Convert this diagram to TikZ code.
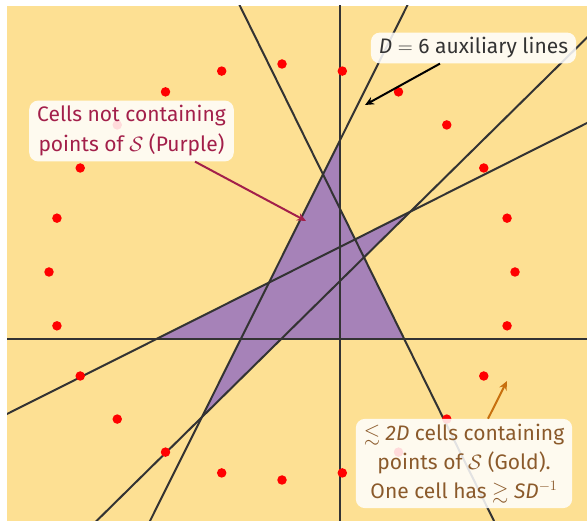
\documentclass[tikz,border=0pt]{standalone}
\usepackage{amssymb}
\usepackage{fontspec}
\setmainfont{Fira Sans}
\usetikzlibrary{arrows.meta,calc}
\definecolor{gold}{HTML}{FDE093}
\definecolor{cellpurple}{HTML}{A682B8}
\definecolor{lineg}{HTML}{333333}
\definecolor{crim}{HTML}{A31F4A}
\definecolor{brownt}{HTML}{8B5A2B}
\definecolor{orangea}{HTML}{C8700F}
\tikzset{
  auxline/.style={lineg, line width=2pt},
  dot/.style={circle, fill=red, inner sep=0pt, minimum size=9.5pt},
  labelbox/.style={fill=white, fill opacity=0.86, text opacity=1, rounded corners=9pt,
    align=center, inner xsep=8pt, inner ysep=5pt, font=\fontsize{21}{30}\selectfont},
  callout/.style={line width=2pt, -{Stealth[length=9pt,width=8pt]}},
}
\begin{document}
\begin{tikzpicture}[x=1pt,y=-1pt]
\useasboundingbox (0,0) rectangle (587,521);
\fill[white] (0,0) rectangle (587,521);
\fill[gold] (7,6) rectangle (587,521);
% line end points
\coordinate (l1a) at (0,339);   \coordinate (l1b) at (600,339);
\coordinate (l2a) at (340,0);   \coordinate (l2b) at (340,530);
\coordinate (l3a) at (240,6);   \coordinate (l3b) at (494,521);
\coordinate (l4a) at (407,6);   \coordinate (l4b) at (150,521);
\coordinate (l5a) at (200,419); \coordinate (l5b) at (409,213);
\coordinate (l6a) at (7,414);   \coordinate (l6b) at (587,123);
% purple cells
\fill[cellpurple]
  (intersection of l2a--l2b and l4a--l4b) --
  (intersection of l4a--l4b and l6a--l6b) --
  (intersection of l6a--l6b and l1a--l1b) --
  (intersection of l1a--l1b and l4a--l4b) --
  (intersection of l4a--l4b and l5a--l5b) --
  (intersection of l5a--l5b and l1a--l1b) --
  (intersection of l1a--l1b and l3a--l3b) --
  (intersection of l3a--l3b and l5a--l5b) --
  (intersection of l5a--l5b and l6a--l6b) --
  (intersection of l6a--l6b and l3a--l3b) --
  (intersection of l3a--l3b and l2a--l2b) -- cycle;
\begin{scope}
\clip (7,6) rectangle (587,521);
\draw[auxline] (l1a) -- (l1b);
\draw[auxline] (l2a) -- (l2b);
\draw[auxline] ($(l3a)!-0.1!(l3b)$) -- ($(l3a)!1.1!(l3b)$);
\draw[auxline] ($(l4a)!-0.1!(l4b)$) -- ($(l4a)!1.1!(l4b)$);
\draw[auxline] ($(l5a)!-0.6!(l5b)$) -- ($(l5a)!2.0!(l5b)$);
\draw[auxline] ($(l6a)!-0.1!(l6b)$) -- ($(l6a)!1.1!(l6b)$);
\end{scope}
% points of S
\foreach \k in {0,...,23} {
  \node[dot] (p\k) at ({282+233*cos(15*\k)},{272-208*sin(15*\k)}) {};
}
% labels
\node[labelbox, text=crim] (lab1) at (131.5,131)
  {Cells not containing\\points of $\mathcal{S}$ (Purple)};
\node[labelbox, text=lineg] (lab2) at (473.5,48)
  {\itshape D\upshape{} $=$ 6 auxiliary lines};
\node[labelbox, text=brownt, font=\fontsize{21}{29}\selectfont] (lab3) at (464,463.5)
  {$\lesssim$ \textit{2D} cells containing\\points of $\mathcal{S}$ (Gold).\\One cell has $\gtrsim$ \textit{SD}$^{-1}$};
% arrows
\coordinate (t1) at (306,221);
\coordinate (t2) at (365,105);
\coordinate (t3) at (507,381);
\draw[callout, crim] ([xshift=63.5pt]lab1.south) -- (t1);
\draw[callout, black] ([xshift=-33.5pt]lab2.south) -- (t2);
\draw[callout, orangea] ([xshift=24pt]lab3.north) -- (t3);
\end{tikzpicture}
\end{document}
